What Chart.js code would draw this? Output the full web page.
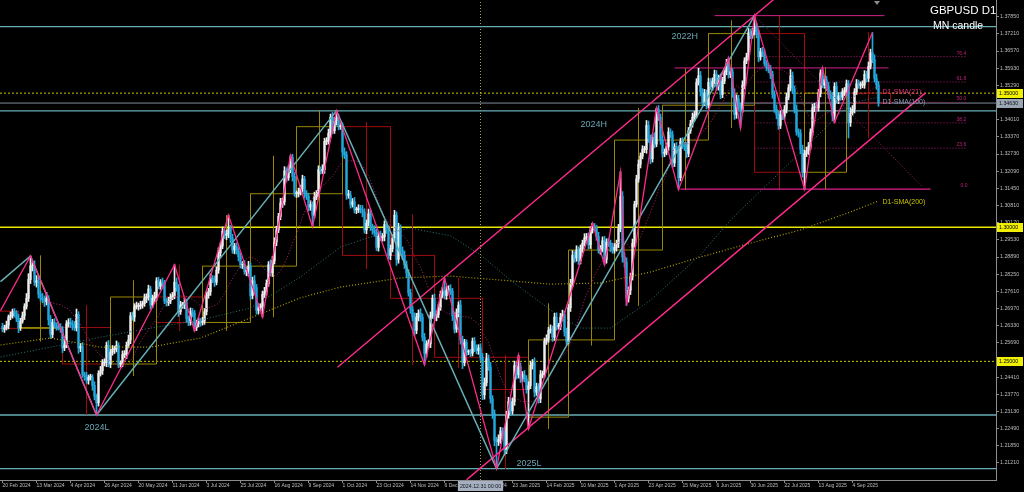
<!DOCTYPE html>
<html>
<head>
<meta charset="utf-8">
<title>GBPUSD D1</title>
<script src="https://cdn.jsdelivr.net/npm/chart.js@4.4.1/dist/chart.umd.min.js"></script>
<style>
  html, body { margin: 0; padding: 0; background: #000; }
  canvas { display: block; }
</style>
</head>
<body>
<canvas id="chart" width="1024" height="492"></canvas>
<script>
// ------------------------------
// Data
// ------------------------------
// daily closes, pips above 1.0000; one line per 17-bar axis step
const firstOpen = 1.2630;
const closePips = [
  2620,2625,2635,2665,2670,2685,2680,2660,2625,2650,2670,2705,2735,2805,2855,2855,2795,
  2800,2750,2735,2730,2720,2735,2655,2600,2645,2635,2630,2625,2620,2550,2565,2640,2645,
  2640,2635,2625,2675,2550,2555,2450,2445,2430,2440,2440,2410,2370,2345,2455,2465,2495,
  2495,2560,2490,2535,2545,2545,2560,2490,2490,2525,2525,2560,2580,2670,2665,2705,2705,
  2705,2710,2715,2735,2740,2770,2710,2735,2740,2800,2780,2795,2790,2725,2720,2725,2740,
  2745,2795,2775,2685,2710,2710,2720,2660,2645,2685,2680,2625,2640,2650,2645,2650,2685,
  2745,2760,2810,2805,2795,2840,2905,2930,2985,2970,2975,2995,2960,2915,2930,2910,2890,
  2860,2860,2835,2840,2855,2745,2800,2775,2690,2700,2705,2750,2760,2790,2860,2830,2875,
  2945,2990,3040,3090,3095,3210,3185,3215,3260,3190,3125,3125,3130,3145,3180,3125,3115,
  3075,3085,3045,3115,3125,3215,3210,3215,3320,3320,3350,3410,3360,3395,3410,3375,3375,
  3280,3270,3120,3120,3085,3095,3065,3065,3070,3065,3055,2990,3015,3050,3000,2990,2980,
  2925,2970,2960,2965,3010,2990,2895,2920,2960,3045,2880,2995,2915,2895,2860,2830,2755,
  2695,2665,2615,2665,2680,2665,2590,2530,2565,2565,2670,2735,2665,2675,2700,2750,2760,
  2745,2765,2770,2760,2670,2620,2680,2710,2580,2495,2570,2535,2535,2530,2575,2550,2540,
  2550,2515,2375,2420,2510,2480,2360,2305,2205,2200,2210,2240,2235,2170,2300,2350,2315,
  2350,2485,2450,2480,2435,2450,2435,2395,2410,2485,2495,2385,2405,2360,2450,2450,2575,
  2585,2615,2620,2590,2665,2630,2630,2665,2675,2610,2575,2700,2790,2895,2885,2915,2875,
  2920,2940,2960,2965,2935,2990,3000,2995,2965,2915,2920,2950,2880,2945,2940,2925,2915,
  2925,2940,2995,3115,2890,2870,2735,2765,2815,2940,3085,3180,3235,3265,3290,3290,3380,
  3330,3255,3335,3310,3440,3410,3325,3275,3280,3300,3355,3345,3240,3300,3290,3185,3320,
  3305,3300,3275,3360,3385,3410,3420,3540,3565,3505,3465,3500,3455,3540,3525,3545,3570,
  3525,3555,3495,3545,3580,3610,3570,3580,3500,3420,3480,3450,3440,3530,3620,3635,3725,
  3715,3730,3745,3720,3635,3655,3650,3610,3595,3590,3570,3495,3440,3420,3380,3420,3415,
  3440,3485,3520,3565,3515,3440,3355,3350,3290,3205,3275,3285,3300,3355,3445,3450,3445,
  3500,3575,3530,3550,3525,3495,3490,3415,3525,3475,3490,3485,3505,3505,3535,3390,3430,
  3440,3505,3535,3530,3530,3530,3570,3555,3600,3650,3625,3555,3530,3463
];
// upper / lower shadow of each candle, in pips beyond the body
const wickUpPips = [
  12,10,15,8,14,10,12,9,15,11,14,10,18,22,38,15,20,
  20,15,12,18,14,22,10,16,12,14,9,12,15,10,18,12,14,
  16,12,14,20,10,12,15,10,14,9,12,10,14,8,10,16,12,
  15,12,18,10,14,12,16,10,12,14,15,12,18,12,14,10,16,
  12,14,10,16,12,14,10,12,18,12,14,10,16,12,10,14,12,
  12,65,16,12,14,10,16,12,10,14,12,10,14,12,10,14,12,
  14,12,16,10,14,12,18,12,16,10,14,50,12,14,10,12,14,
  14,12,16,10,18,12,14,20,12,14,10,12,16,14,12,18,16,
  16,14,12,18,14,16,12,14,8,12,14,10,16,12,14,10,12,
  12,14,10,16,12,14,10,18,12,14,16,12,18,14,24,12,14,
  14,16,12,18,14,12,16,10,14,12,16,14,12,18,14,12,16,
  14,12,16,12,14,10,16,14,12,18,12,20,14,12,16,14,12,
  14,12,16,14,12,16,12,14,12,16,14,12,16,12,14,12,16,
  51,14,12,16,12,14,16,12,18,14,12,10,8,10,12,14,12,
  12,16,14,18,20,14,16,12,14,12,16,14,12,18,14,16,12,
  14,16,12,43,14,12,16,12,14,16,12,18,14,12,16,14,12,
  14,12,16,12,14,16,12,14,16,12,14,12,16,18,14,16,12,
  14,12,16,12,14,12,15,14,12,16,12,14,16,12,14,12,16,
  14,12,16,92,18,14,16,12,14,16,12,14,16,12,14,12,18,
  16,14,12,18,5,14,12,16,12,14,16,12,14,12,16,14,12,
  14,12,16,12,14,16,12,14,28,16,12,14,12,16,14,12,16,
  14,12,16,14,12,16,22,14,12,16,14,12,14,16,12,14,16,
  14,12,44,16,14,12,16,14,12,16,14,12,14,16,12,14,16,
  14,16,12,23,14,12,16,12,14,16,12,14,16,12,14,12,16,
  14,12,19,14,12,16,14,12,14,16,12,14,12,16,14,12,16,
  14,12,16,14,12,16,14,12,16,14,76,18,16,14
];
const wickDnPips = [
  10,12,8,14,10,9,15,12,18,10,8,14,10,12,15,18,12,
  18,14,10,12,16,10,20,15,12,10,14,8,12,18,10,14,12,
  14,18,10,12,20,14,10,16,12,15,10,18,14,45,12,10,14,
  12,15,10,14,12,16,10,14,12,10,12,15,10,14,12,16,10,
  14,10,12,10,16,12,15,10,12,14,10,12,18,10,14,12,10,
  10,12,14,18,10,12,14,16,12,10,14,12,10,12,14,10,12,
  12,10,14,12,16,10,12,14,10,12,16,14,18,12,14,10,16,
  12,14,10,16,22,14,12,25,14,12,10,40,12,14,10,12,14,
  12,14,10,12,16,12,14,10,12,18,10,14,12,10,14,16,12,
  14,12,44,10,12,14,12,10,14,12,10,16,12,10,14,12,10,
  18,14,16,12,14,10,12,14,10,12,16,12,14,10,12,16,14,
  12,14,10,12,16,14,12,16,12,10,22,14,12,16,14,18,12,
  16,14,20,12,14,16,14,43,14,12,14,10,12,14,12,10,12,
  12,14,10,12,18,14,12,14,16,22,12,14,10,12,10,14,12,
  14,12,18,16,12,14,16,18,20,100,14,16,12,18,14,12,16,
  12,14,16,12,14,10,12,14,146,12,14,18,12,16,14,12,10,
  12,14,10,16,12,14,10,12,14,16,12,10,14,12,16,12,14,
  12,14,10,12,16,14,12,10,14,12,16,12,20,14,12,16,12,
  12,14,16,12,20,18,27,14,16,12,14,10,12,14,10,12,14,
  14,18,12,14,10,12,16,14,12,10,14,12,18,14,12,45,12,
  12,14,16,12,10,12,14,12,10,16,14,12,14,10,12,14,10,
  12,14,16,12,10,12,14,12,16,18,14,16,70,12,14,10,12,
  12,10,12,14,18,12,14,10,12,14,16,14,12,16,15,12,14,
  12,14,10,12,16,14,12,14,16,18,63,12,14,10,12,14,12,
  12,14,10,12,16,14,12,18,24,12,14,12,10,14,12,57,14,
  12,14,10,12,14,10,12,14,12,10,12,14,16,12
];

// time axis: bar index of each label and its text
const dateTickIdx = [0,17,34,51,68,85,102,119,136,153,170,187,204,221,238,255,272,289,306,323,340,357,374,391,408,425];
const dateTickLabels = [
  "20 Feb 2024","13 Mar 2024","4 Apr 2024","26 Apr 2024","20 May 2024","11 Jun 2024","3 Jul 2024",
  "25 Jul 2024","16 Aug 2024","9 Sep 2024","1 Oct 2024","23 Oct 2024","14 Nov 2024","6 Dec 2024",
  "30 Dec 2024","23 Jan 2025","14 Feb 2025","10 Mar 2025","1 Apr 2025","23 Apr 2025","15 May 2025",
  "6 Jun 2025","30 Jun 2025","22 Jul 2025","13 Aug 2025","4 Sep 2025"
];
const priceTicks = [1.37850,1.37210,1.36570,1.35930,1.35290,1.34650,1.34010,1.33370,1.32730,1.32090,
  1.31450,1.30810,1.30170,1.29530,1.28890,1.28250,1.27610,1.26970,1.26330,1.25690,1.25050,
  1.24410,1.23770,1.23130,1.22490,1.21850,1.21210];
const priceMin = 1.20576, priceMax = 1.38473;

// monthly candles (Feb 2024 .. Sep 2025), bar-index boundaries between months
const mnBounds = [-13,8,30,54,77,100,124,147,170,194,216,240,263,283,306,330,353,376,401,422,444];
const mnOpen  = [1.2687,1.2623,1.2626,1.2490,1.2740,1.2645,1.2855,1.3125,1.3375,1.2895,1.2735,1.2515,1.2292,1.2580,1.2915,1.3325,1.3455,1.3722,1.3205,1.3500];
const mnHigh  = [1.2709,1.2894,1.2709,1.2801,1.2860,1.3044,1.3266,1.3434,1.3391,1.3047,1.2811,1.2523,1.2715,1.3015,1.3445,1.3593,1.3770,1.3789,1.3595,1.3726];
const mnLow   = [1.2518,1.2575,1.2300,1.2446,1.2613,1.2615,1.2665,1.3001,1.2845,1.2487,1.2475,1.2100,1.2249,1.2560,1.2708,1.3140,1.3370,1.3140,1.3142,1.3333];
const mnClose = [1.2623,1.2626,1.2490,1.2740,1.2645,1.2855,1.3125,1.3375,1.2895,1.2735,1.2515,1.2395,1.2580,1.2915,1.3325,1.3455,1.3722,1.3205,1.3500,1.3463];

// zigzags
const zzMinorIdx   = [-1,14,47,86,96,113,130,144,155,167,211,221,247,258,263,295,301,309,312,327,338,363,369,376,401,410,416,435];
const zzMinorPrice = [1.2689,1.2893,1.2300,1.2860,1.2613,1.3045,1.2665,1.3268,1.3001,1.3434,1.2487,1.2811,1.2100,1.2523,1.2249,1.3015,1.2860,1.3207,1.2708,1.3445,1.3140,1.3632,1.3370,1.3789,1.3142,1.3594,1.3391,1.3726];
const zzMajorIdx   = [-1,14,47,167,247,376];
const zzMajorPrice = [1.2797,1.2893,1.2300,1.3434,1.2100,1.3789];

// horizontal levels
const tagLevels = [1.3748,1.3434,1.2300,1.2100];
const tagNames  = ["2022H","2024H","2024L","2025L"];
const roundLevels = [1.3500,1.3000,1.2500];
const bidPrice = 1.3463;

// rising channel, two anchors per line
const chanUpIdx = [167.5,386],  chanUpPrice = [1.2478,1.3852];
const chanLoIdx = [232,461.5],  chanLoPrice = [1.2058,1.3501];
const projIdx = [376,460],      projPrice = [1.3789,1.3150];

// fibonacci from Aug 2025 low to Jul 2025 high
const fibLow = 1.3142, fibHigh = 1.3789;
const fibRatios = [0.236,0.382,0.5,0.618,0.764];
const fibNames  = ["23.6","38.2","50.0","61.8","76.4"];
const fibMid = 1.3594;

// moving averages at a few points
const sma100Idx   = [-1,24,49,74,99,124,149,169,184,204,224,239,254,274,289,304,324,349,364,394,424,438];
const sma100Price = [1.2516,1.2553,1.2590,1.2624,1.2654,1.2699,1.2815,1.2926,1.2964,1.2997,1.2968,1.2897,1.2803,1.2691,1.2624,1.2624,1.2728,1.2897,1.3027,1.3243,1.3463,1.3485];
const sma200Idx   = [-1,24,49,74,99,124,149,169,199,224,249,274,299,324,349,374,399,424,438];
const sma200Price = [1.2561,1.2587,1.2553,1.2553,1.2587,1.2662,1.2737,1.2777,1.2811,1.2818,1.2803,1.2788,1.2792,1.2833,1.2889,1.2941,1.2990,1.3057,1.3098];

const crossIdx = 239;
const crossLabel = "2024.12.31 00:00";

// ------------------------------
// Build candles
// ------------------------------
const closes = closePips.map(p => 1 + p / 10000);
const opens = closes.map((c, i) => i === 0 ? firstOpen : closes[i - 1]);
const highs = closes.map((c, i) => Math.max(opens[i], c) + wickUpPips[i] / 10000);
const lows  = closes.map((c, i) => Math.min(opens[i], c) - wickDnPips[i] / 10000);
const candleColor = closes.map((c, i) => c >= opens[i] ? "#eeeeee" : "#22a8dc");

const sma21 = closes.map((c, i) => {
    if (i < 20) return { x: i, y: null };
    let s = 0;
    for (let k = i - 20; k <= i; k++) s += closes[k];
    return { x: i, y: s / 21 };
});

const X0 = -1.25, X1 = 496.75;

function pts(xs, ys) { return xs.map((x, i) => ({ x, y: ys[i] })); }
function hline(y, a = X0, b = X1) { return [{ x: a, y }, { x: b, y }]; }

function lineDs(data, color, extra) {
    return Object.assign({
        type: "line", data, borderColor: color, borderWidth: 1,
        pointRadius: 0, fill: false, tension: 0, spanGaps: false, order: 3
    }, extra || {});
}

// monthly boxes and shadows, split by colour
const boxUp = [], boxDn = [], wickUpM = [], wickDnM = [];
mnOpen.forEach((o, m) => {
    const s = mnBounds[m], e = mnBounds[m + 1], c = mnClose[m], mid = (s + e) / 2;
    const box = c >= o ? boxUp : boxDn;
    const wk = c >= o ? wickUpM : wickDnM;
    box.push({ x: s, y: o }, { x: e, y: o }, { x: e, y: c }, { x: s, y: c }, { x: s, y: o }, { x: s, y: null });
    wk.push({ x: mid, y: mnHigh[m] }, { x: mid, y: mnLow[m] }, { x: mid, y: null });
});

const OLIVE = "#9a8600", DRED = "#a00c0c", PINK = "#ff2a8c", TEAL = "#66aeb6";
const dot = [1, 2];

const datasets = [
    // top layer
    lineDs(pts(zzMinorIdx, zzMinorPrice), PINK, { borderWidth: 1.3, order: 1 }),
    lineDs(pts(zzMajorIdx, zzMajorPrice), TEAL, { borderWidth: 1.5, order: 1 }),
    lineDs(pts(chanUpIdx, chanUpPrice), PINK, { borderWidth: 1.4, order: 1 }),
    lineDs(pts(chanLoIdx, chanLoPrice), PINK, { borderWidth: 1.4, order: 1 }),
    lineDs(pts(projIdx, projPrice), "#a0204c", { borderDash: dot, order: 2 }),
    // moving averages
    lineDs(sma21, "#b8246a", { borderDash: dot, order: 4 }),
    lineDs(pts(sma100Idx, sma100Price), "#2e7474", { borderDash: dot, order: 4 }),
    lineDs(pts(sma200Idx, sma200Price), "#b0a000", { borderDash: dot, borderWidth: 1.2, order: 4 }),
    // candles
    { type: "bar", data: closes.map((c, i) => ({ x: i, y: [opens[i], c] })), backgroundColor: candleColor,
      barThickness: 1.6, minBarLength: 1, grouped: false, borderWidth: 0, order: 5 },
    { type: "bar", data: closes.map((c, i) => ({ x: i, y: [lows[i], highs[i]] })), backgroundColor: candleColor,
      barThickness: 1, grouped: false, borderWidth: 0, order: 6 },
    // monthly candles
    lineDs(boxUp, OLIVE, { order: 8 }),
    lineDs(boxDn, DRED, { order: 8 }),
    lineDs(wickUpM, OLIVE, { order: 8 }),
    lineDs(wickDnM, DRED, { order: 8 }),
    // fibonacci
    ...fibRatios.map(r => lineDs(hline(fibLow + r * (fibHigh - fibLow), 376, 482), "#a8206e", { borderDash: dot, order: 7 })),
    lineDs(hline(fibHigh, 356, 441), "#d0208a", { order: 7 }),
    lineDs(hline(fibMid, 336, 443), "#d0208a", { order: 7 }),
    lineDs(hline(fibLow, 339, 464), "#e0208e", { borderWidth: 1.2, order: 7 }),
    // levels
    ...tagLevels.map(v => lineDs(hline(v), TEAL, { borderWidth: 1.4, order: 9 })),
    lineDs(hline(roundLevels[0]), "#c8c800", { borderDash: [2, 2], order: 9 }),
    lineDs(hline(roundLevels[1]), "#e8e800", { borderWidth: 1.4, order: 9 }),
    lineDs(hline(roundLevels[2]), "#c8c800", { borderDash: [2, 2], order: 9 }),
    lineDs(hline(bidPrice), "#7f8c98", { order: 9 }),
    lineDs([{ x: crossIdx, y: priceMin }, { x: crossIdx, y: priceMax }], "#a89c58", { borderDash: dot, order: 9 })
];

// ------------------------------
// Texts, axis badges
// ------------------------------
const overlay = {
    id: "overlay",
    afterDraw(chart) {
        const ctx = chart.ctx, xs = chart.scales.x, ys = chart.scales.y;
        const X = v => xs.getPixelForValue(v), Y = v => ys.getPixelForValue(v);
        ctx.save();
        ctx.textBaseline = "alphabetic";

        // level tags
        const tagAt = { "2022H": [334.5, 12], "2024H": [289, 16], "2024L": [41, 15], "2025L": [257, -3] };
        ctx.font = '9px "Liberation Sans"';
        ctx.fillStyle = "#6aa4b0";
        tagNames.forEach((t, i) => ctx.fillText(t, X(tagAt[t][0]), Y(tagLevels[i]) + tagAt[t][1]));

        // fibonacci labels
        ctx.font = '5px "Liberation Sans"';
        ctx.fillStyle = "#c02078";
        fibRatios.forEach((r, i) => ctx.fillText(fibNames[i], X(477), Y(fibLow + r * (fibHigh - fibLow)) - 2));
        ctx.fillText("0.0", X(479), Y(fibLow) - 2);

        // indicator labels
        ctx.font = '7px "Liberation Sans"';
        ctx.fillStyle = "#e0307c"; ctx.fillText("D1-SMA(21)", X(440), Y(1.3498));
        ctx.fillStyle = "#8c98b4"; ctx.fillText("D1-SMA(100)", X(440), Y(1.3460));
        ctx.fillStyle = "#c8c000"; ctx.fillText("D1-SMA(200)", X(440), Y(1.3085));

        // title
        ctx.fillStyle = "#ffffff";
        ctx.font = '11.5px "Liberation Sans"';
        ctx.fillText("GBPUSD D1", 930, 14);
        ctx.font = '10.5px "Liberation Sans"';
        ctx.fillText("MN candle", 933, 29);

        // shift marker
        ctx.fillStyle = "#8c8c8c";
        ctx.beginPath(); ctx.moveTo(874, 1); ctx.lineTo(880, 1); ctx.lineTo(877, 5); ctx.closePath(); ctx.fill();

        // price badges on the right axis
        ctx.font = '5.3px "Liberation Sans"';
        ctx.textBaseline = "middle";
        const badge = (v, bg, fg) => {
            const y = Math.round(Y(v));
            ctx.fillStyle = bg; ctx.fillRect(997, y - 4, 26, 9);
            ctx.fillStyle = fg; ctx.fillText(v.toFixed(5), 999, y + 0.5);
        };
        roundLevels.forEach(v => badge(v, "#f0f000", "#000000"));
        badge(bidPrice, "#9aa6b4", "#101018");

        // crosshair time badge
        const cx = X(crossIdx), w = ctx.measureText(crossLabel).width + 4;
        ctx.fillStyle = "#a6b0c0"; ctx.fillRect(cx - w / 2, 481, w, 10);
        ctx.fillStyle = "#14141e"; ctx.fillText(crossLabel, cx - w / 2 + 2, 486.5);
        ctx.restore();
    }
};

new Chart(document.getElementById("chart"), {
    type: "bar",
    data: { datasets },
    options: {
        responsive: false,
        animation: false,
        devicePixelRatio: 1,
        events: [],
        layout: { padding: 0 },
        plugins: { legend: { display: false }, tooltip: { enabled: false } },
        scales: {
            x: {
                type: "linear", min: X0, max: X1, offset: false,
                grid: { drawOnChartArea: false, drawTicks: true, tickLength: 3, color: "#8c8c8c", offset: false },
                border: { display: true, color: "#8c8c8c" },
                ticks: {
                    autoSkip: false, maxRotation: 0, align: "start", padding: 0,
                    color: "#bdbdbd", font: { family: "Liberation Sans", size: 5 },
                    callback: (v, i) => dateTickLabels[i]
                },
                afterBuildTicks: s => { s.ticks = dateTickIdx.map(v => ({ value: v })); },
                afterFit: s => { s.height = 12; s.paddingLeft = 0; s.paddingRight = 0; }
            },
            y: {
                type: "linear", position: "right", min: priceMin, max: priceMax,
                grid: { drawOnChartArea: false, drawTicks: true, tickLength: 3, color: "#8c8c8c" },
                border: { display: true, color: "#8c8c8c" },
                ticks: {
                    autoSkip: false, padding: 1,
                    color: "#bdbdbd", font: { family: "Liberation Sans", size: 5.3 },
                    callback: v => v.toFixed(5)
                },
                afterBuildTicks: s => { s.ticks = priceTicks.map(v => ({ value: v })); },
                afterFit: s => { s.width = 28; s.paddingTop = 0; s.paddingBottom = 0; }
            }
        }
    },
    plugins: [overlay]
});
</script>
</body>
</html>
